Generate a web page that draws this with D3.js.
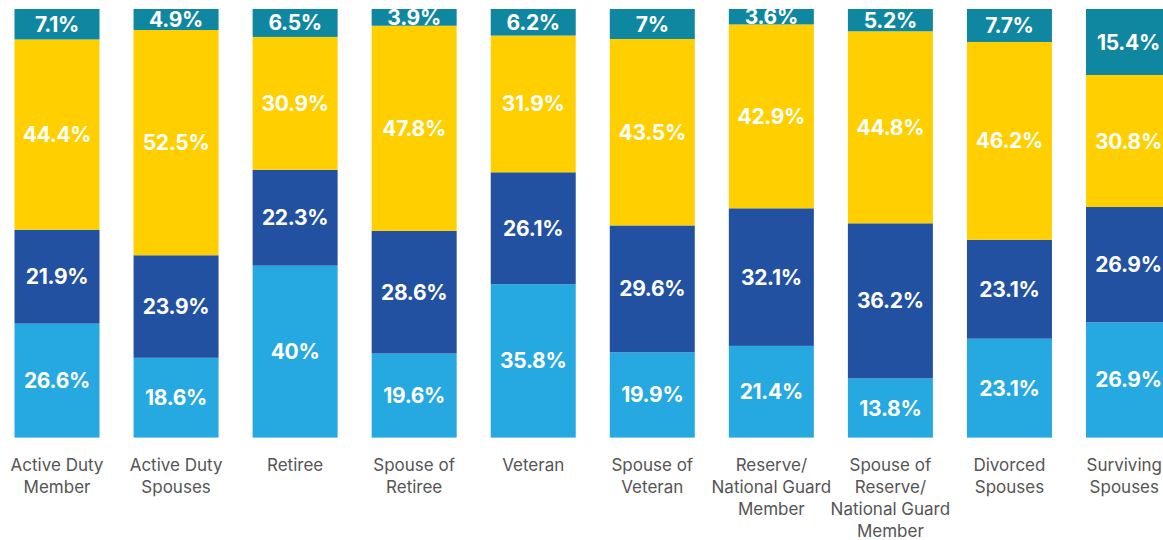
<!DOCTYPE html>
<html>
<head>
<meta charset="utf-8">
<script src="https://cdn.jsdelivr.net/npm/d3@7"></script>
<style>
  html, body { margin: 0; padding: 0; background: #fff; overflow: hidden; }
  svg { display: block; }
</style>
</head>
<body>
<svg id="chart" width="1163" height="540"></svg>
<script>
// Category names; "|" marks a line break in the axis label
const categories = [
  "Active Duty|Member",
  "Active Duty|Spouses",
  "Retiree",
  "Spouse of|Retiree",
  "Veteran",
  "Spouse of|Veteran",
  "Reserve/|National Guard|Member",
  "Spouse of|Reserve/|National Guard|Member",
  "Divorced|Spouses",
  "Surviving|Spouses"
];

// Series, stacked bottom to top (percent of respondents)
const seriesKeys = ["s1", "s2", "s3", "s4"];
const s1 = [26.6, 18.6, 40, 19.6, 35.8, 19.9, 21.4, 13.8, 23.1, 26.9];
const s2 = [21.9, 23.9, 22.3, 28.6, 26.1, 29.6, 32.1, 36.2, 23.1, 26.9];
const s3 = [44.4, 52.5, 30.9, 47.8, 31.9, 43.5, 42.9, 44.8, 46.2, 30.8];
const s4 = [7.1, 4.9, 6.5, 3.9, 6.2, 7, 3.6, 5.2, 7.7, 15.4];

const colors = ["#26a8e0", "#2251a2", "#ffcf00", "#0f87a0"];

const width = 1163;
const rows = categories.map((c, i) => ({ cat: c, s1: s1[i], s2: s2[i], s3: s3[i], s4: s4[i] }));

const svg = d3.select("#chart");

const x = d3.scaleBand()
  .domain(categories)
  .range([14.5, 1171])
  .paddingInner(0.286)
  .paddingOuter(0);

const y = d3.scaleLinear()
  .domain([0, 1])
  .range([437.6, 9]);

const stack = d3.stack().keys(seriesKeys).offset(d3.stackOffsetExpand);
const layers = stack(rows);

const g = svg.append("g");

layers.forEach((layer, li) => {
  const lg = g.append("g").attr("fill", colors[li]);
  lg.selectAll("rect")
    .data(layer)
    .join("rect")
    .attr("x", d => x(d.data.cat))
    .attr("width", x.bandwidth())
    .attr("y", d => y(d[1]))
    .attr("height", d => y(d[0]) - y(d[1]));
});

// Value labels, centred in each segment
layers.forEach((layer, li) => {
  g.append("g").selectAll("text")
    .data(layer)
    .join("text")
    .attr("x", d => x(d.data.cat) + x.bandwidth() / 2)
    .attr("y", d => (y(d[0]) + y(d[1])) / 2)
    .attr("text-anchor", "middle")
    .attr("dominant-baseline", "central")
    .attr("fill", "#fff")
    .attr("font-family", "Inter, 'Noto Sans', sans-serif")
    .attr("font-weight", 700)
    .attr("font-size", 21)
    .attr("letter-spacing", "-0.3px")
    .text(d => d.data[seriesKeys[li]] + "%");
});

// Category axis
const xAxis = d3.axisBottom(x).tickSize(0).tickFormat("");
const axisG = svg.append("g")
  .attr("transform", `translate(0, ${y(0)})`)
  .call(xAxis);
axisG.select(".domain").remove();

axisG.selectAll(".tick").each(function(d) {
  const tick = d3.select(this);
  const t = tick.append("text")
    .attr("text-anchor", "middle")
    .attr("fill", "#555")
    .attr("font-family", "Inter, 'Noto Sans', sans-serif")
    .attr("font-size", 17);
  d.split("|").forEach((line, i) => {
    t.append("tspan")
      .attr("x", 0)
      .attr("y", 33 + i * 22.3)
      .text(line);
  });
  // keep labels inside the drawing area
  const box = this.getBBox ? t.node().getBBox() : null;
  const cx = x(d) + x.bandwidth() / 2;
  if (box && cx + box.x + box.width > width - 1) {
    t.attr("transform", `translate(${width - 1 - (cx + box.x + box.width)}, 0)`);
  }
});
</script>
</body>
</html>
